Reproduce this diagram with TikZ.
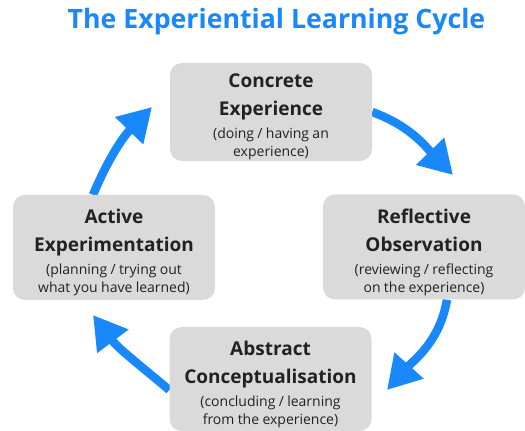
\documentclass[tikz,border=0pt]{standalone}
\usepackage{fontspec}
\setmainfont{Open Sans}
\usetikzlibrary{arrows.meta,backgrounds}
\definecolor{cycleblue}{RGB}{24,136,250}
\definecolor{boxgray}{RGB}{218,218,218}
\definecolor{ink}{RGB}{34,34,34}
\newcommand{\headfont}{\fontsize{19}{28}\selectfont\bfseries}
\newcommand{\notefont}{\fontsize{14}{18}\selectfont\mdseries}
% two heading lines, two note lines; the trailing negative space lowers the block a little
\newcommand{\stagetext}[4]{%
  \headfont #1\\#2\par\vspace{5pt}\notefont #3\\#4\par\vspace{-10pt}}

\begin{document}
\begin{tikzpicture}[x=1pt,y=1pt,
  stage/.style={fill=boxgray, rounded corners=12pt, minimum width=202pt,
    minimum height=100pt, text width=196pt, align=center, text=ink, inner sep=0pt},
  cyclearrow/.style={draw=cycleblue, line width=8.5pt,
    -{Triangle[length=33pt,width=37pt]}, cycleblue}
]
\useasboundingbox (0,0) rectangle (525,431);

% title
\node[text=cycleblue, font=\fontsize{26.7}{32}\selectfont\bfseries] (title) at (276.5,409)
  {The Experiential Learning Cycle};

% the four stages
\node[stage, minimum height=98pt] (ce) at (271,319)
  {\stagetext{Concrete}{Experience}{(doing / having an}{experience)}};
\node[stage, minimum height=105pt] (ro) at (424,184)
  {\stagetext{Reflective}{Observation}{(reviewing / reflecting}{on the experience)}};
\node[stage, minimum height=104pt] (ac) at (270.5,52)
  {\stagetext{Abstract}{Conceptualisation}{(concluding / learning}{from the experience)}};
\node[stage, minimum height=105pt] (ae) at (114,183.5)
  {\stagetext{Active}{Experimentation}{(planning / trying out}{what you have learned)}};

% arrow tips
\coordinate (tip1) at (453,256);
\coordinate (tip2) at (387,41);
\coordinate (tip3) at (93,116);
\coordinate (tip4) at (152,324);

\begin{scope}[on background layer]
  \fill[white] (0,0) rectangle (525,431);
  \draw[cyclearrow] (ce.east) to[out=-20,in=134] (tip1);
  \draw[cyclearrow] ([xshift=23pt]ro.south) to[out=-100,in=48] (tip2);
  \draw[cyclearrow] ([yshift=-11pt]ac.west) to[out=140,in=-53] (tip3);
  \draw[cyclearrow] ([xshift=-21pt]ae.north) to[out=67,in=-134] (tip4);
\end{scope}
\end{tikzpicture}
\end{document}
